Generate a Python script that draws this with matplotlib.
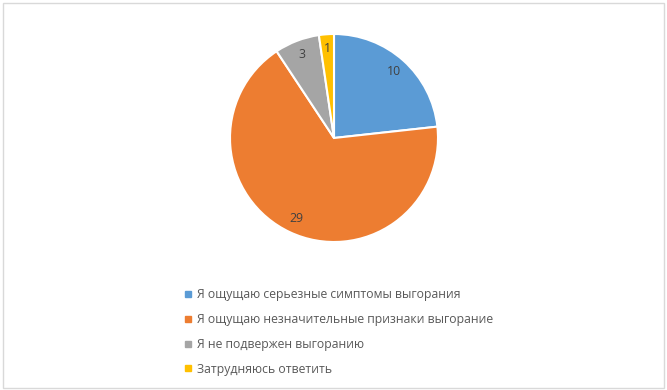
import matplotlib.pyplot as plt
from matplotlib.lines import Line2D
from matplotlib.patches import Rectangle

labels = ['Я ощущаю серьезные симптомы выгорания',
          'Я ощущаю незначительные признаки выгорание',
          'Я не подвержен выгоранию',
          'Затрудняюсь ответить']
values = [10, 29, 3, 1]
colors = ['#5B9BD5', '#ED7D31', '#A5A5A5', '#FFC000']

plt.rcParams['font.family'] = ['Open Sans', 'DejaVu Sans']

fig = plt.figure(figsize=(6.67, 3.90), dpi=100)
W, H = 667, 390

# pie centred at (334, 138) px, radius ~104 px
r = 104
ax = fig.add_axes([(334 - r) / W, 1 - (138 + r) / H, 2 * r / W, 2 * r / H])
wedges, texts = ax.pie(values, colors=colors, startangle=90, counterclock=False,
                       labels=[str(v) for v in values], labeldistance=0.86,
                       wedgeprops=dict(edgecolor='white', linewidth=1.5),
                       textprops=dict(color='#404040', fontsize=8.8))
for t in texts:
    t.set_horizontalalignment('center')
    t.set_verticalalignment('center')
ax.set_xlim(-1, 1)
ax.set_ylim(-1, 1)
ax.set_aspect('equal')

handles = [Line2D([], [], marker='s', linestyle='none', markersize=4,
                  markerfacecolor=c, markeredgecolor=c) for c in colors]
fig.legend(handles, labels, loc='upper left',
           bbox_to_anchor=(178 / W, 1 - 282 / H), frameon=False,
           fontsize=8.8, labelcolor='#595959', handlelength=0.6,
           handletextpad=0.45, labelspacing=0.97, borderpad=0)

# outer chart border
fig.patches.append(Rectangle((3 / W, 2 / H), 1 - 6 / W, 1 - 5 / H, transform=fig.transFigure,
                             fill=False, edgecolor='#D9D9D9', linewidth=1))

fig.savefig('out.png', dpi=100)
